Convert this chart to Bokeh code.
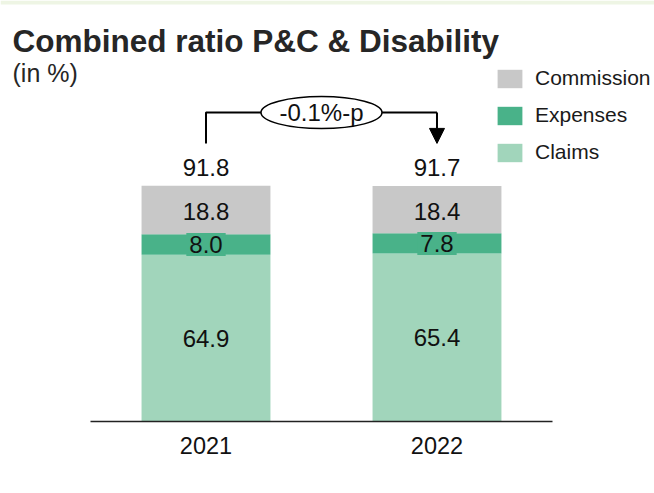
from bokeh.plotting import figure
from bokeh.models import (Range1d, FixedTicker, Legend, LegendItem, Label, Arrow,
                          NormalHead, BoxAnnotation, ColumnDataSource)
from bokeh.core.properties import value
from bokeh.embed import file_html
from bokeh.resources import INLINE

# ---- data ----
years = ["2021", "2022"]
claims = [64.9, 65.4]
expenses = [8.0, 7.8]
commission = [18.8, 18.4]
totals = [91.8, 91.7]
series = ["Claims", "Expenses", "Commission"]
colors = ["#a1d5bb", "#49b289", "#c8c8c8"]

# ---- layout ----
W, H = 654, 493
BOTTOM = 72
FRAME_H = H - BOTTOM
X0, X1 = -0.8896, 1.9416
Y1 = 163.8
FONT = "Liberation Sans"


def px_x(px):
    return X0 + px * (X1 - X0) / W


def px_y(py):
    return (FRAME_H - py) * Y1 / FRAME_H


xs = list(range(len(years)))
src = ColumnDataSource(dict(
    x=xs, claims=claims, expenses=expenses, commission=commission, totals=totals,
    claims_mid=[c / 2 for c in claims],
    exp_mid=[c + e / 2 for c, e in zip(claims, expenses)],
    com_mid=[c + e + m / 2 for c, e, m in zip(claims, expenses, commission)],
    claims_lbl=[f"{v:.1f}" for v in claims],
    exp_lbl=[f"{v:.1f}" for v in expenses],
    com_lbl=[f"{v:.1f}" for v in commission],
    tot_lbl=[f"{v:.1f}" for v in totals],
))

p = figure(width=W, height=H, output_backend="svg", toolbar_location=None,
           x_range=Range1d(X0, X1), y_range=Range1d(0, Y1),
           min_border_left=0, min_border_right=0, min_border_top=0,
           min_border_bottom=BOTTOM, y_axis_location=None, title=None)
p.outline_line_color = None
p.xgrid.visible = False
p.ygrid.visible = False
p.background_fill_color = "white"
p.border_fill_color = "white"

# top strip
p.add_layout(BoxAnnotation(bottom=px_y(4), fill_color="#eef5e4", fill_alpha=1,
                           line_color=None, level="underlay"))

renderers = p.vbar_stack(["claims", "expenses", "commission"], x="x", width=0.558,
                         color=colors, line_color=None, source=src)

common = dict(text_font=value(FONT), text_font_size="24px", text_color="#111111",
              text_align="center", text_baseline="middle")
p.text(x="x", y="claims_mid", text="claims_lbl", source=src, **common)
p.text(x="x", y="com_mid", text="com_lbl", y_offset=2, source=src, **common)
p.text(x="x", y="exp_mid", text="exp_lbl", source=src,
       background_fill_color=colors[1], padding=3, **common)
p.text(x="x", y="totals", text="tot_lbl", y_offset=-18, source=src, **common)

# axis
ax = p.xaxis[0]
ax.ticker = FixedTicker(ticks=xs)
ax.major_label_overrides = {i: y for i, y in enumerate(years)}
ax.bounds = (-0.5, len(years) - 0.5)
ax.axis_line_color = "#222222"
ax.axis_line_width = 1.5
ax.major_tick_line_color = None
ax.minor_tick_line_color = None
ax.major_tick_out = 0
ax.major_tick_in = 0
ax.major_label_standoff = 15
ax.major_label_text_font = FONT
ax.major_label_text_font_size = "23.5px"
ax.major_label_text_color = "#111111"

# change bracket
top_total = max(totals)
low = top_total + 16.4
top = top_total + 28.4
p.line(x=[xs[0], xs[0], xs[1]], y=[low, top, top], line_color="black", line_width=2)
p.add_layout(Arrow(end=NormalHead(size=15, fill_color="black", line_color="black"),
                   x_start=xs[1], y_start=top, x_end=xs[1], y_end=low,
                   line_color="black", line_width=2))
mid = (xs[0] + xs[1]) / 2
p.ellipse(x=[mid], y=[top], width=121, height=32, width_units="screen",
          height_units="screen", fill_color="white", line_color="black", line_width=1.5)
diff = totals[1] - totals[0]
p.text(x=[mid], y=[top], text=[f"{diff:.1f}%-p"], text_align="center",
       text_baseline="middle", text_font=value(FONT), text_font_size="24px",
       text_color="#111111")

# titles
p.add_layout(Label(x=px_x(12), y=px_y(40), text="Combined ratio P&C & Disability",
                   text_font=FONT, text_font_size="31.5px", text_font_style="bold",
                   text_color="#262626", text_baseline="middle"))
p.add_layout(Label(x=px_x(12), y=px_y(72), text="(in %)",
                   text_font=FONT, text_font_size="25px",
                   text_color="#262626", text_baseline="middle"))

# legend
items = [LegendItem(label=series[i], renderers=[renderers[i]]) for i in (2, 1, 0)]
legend = Legend(items=items, location=(494, FRAME_H - 164), glyph_width=31,
                glyph_height=23, label_text_font=FONT, label_text_font_size="21px",
                label_text_color="#1a1a1a", spacing=13, padding=0, margin=0,
                border_line_color=None, background_fill_alpha=0, label_standoff=10)
p.add_layout(legend)

open("out.html", "w").write(file_html(p, INLINE))
